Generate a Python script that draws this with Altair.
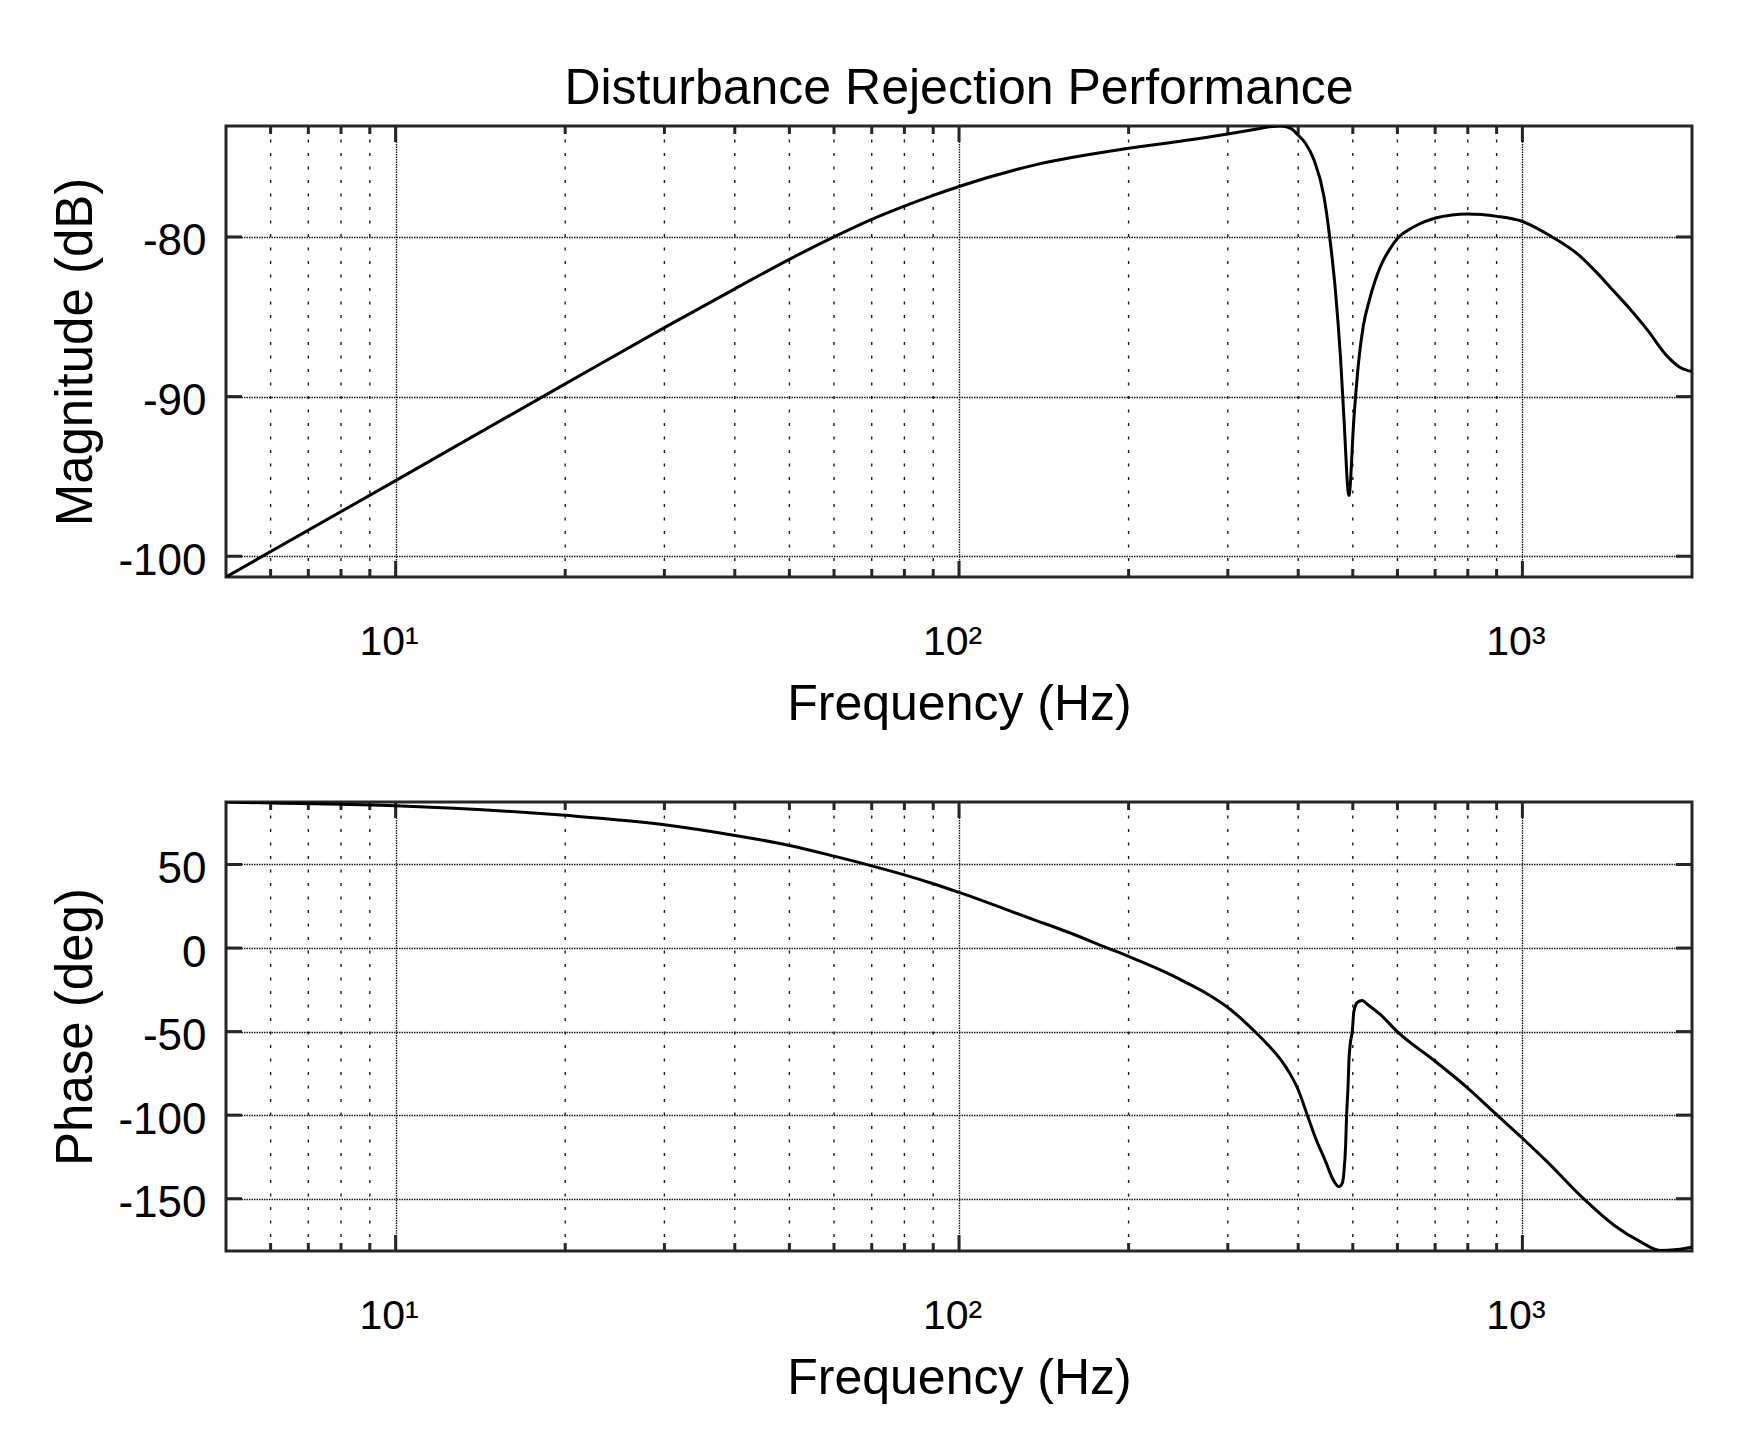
import altair as alt
import pandas as pd

# ---- data ----
mag_freq = [5, 10, 20, 30, 40, 50, 60, 70, 80, 90, 100, 136, 200, 250, 300, 340, 355,
            372, 388, 399.6, 412, 426.6, 444.4, 454.9, 466.1, 475.7, 482.3, 492.1,
            502.2, 512.6, 521.9, 535.5, 560.1, 583.4, 603.6, 624.5, 650.7, 701, 750,
            798, 901.6, 1000, 1129, 1267, 1357, 1452, 1555, 1664, 1805, 1906, 2000]
mag_db = [-101.3, -95.26, -89.2, -85.68, -83.25, -81.4, -80.0, -78.9, -78.07, -77.4,
          -76.84, -75.5, -74.45, -73.98, -73.55, -73.22, -73.1, -73.05, -73.2, -73.61,
          -74.13, -75.17, -77.47, -80.0, -83.5, -87.66, -91.4, -96.19, -91.4, -87.66,
          -85.58, -83.91, -81.83, -80.69, -80.0, -79.61, -79.25, -78.81, -78.62,
          -78.56, -78.71, -79.03, -80.0, -81.21, -82.25, -83.39, -84.54, -85.79, -87.45,
          -88.18, -88.43]

ph_freq = [5, 6.03, 10, 20, 30, 40, 50, 60, 70, 80, 90, 100, 136, 155.9, 183.5, 200,
           234.4, 247.5, 274.2, 303.6, 334.8, 353.6, 372.4, 387.9, 400, 415.2, 429.5,
           447.5, 459.9, 472.4, 479, 482.3, 485.6, 487.5, 490.5, 492.1, 495.5, 498.9,
           502.2, 509.2, 519.7, 530.4, 560.1, 599.6, 701, 798, 901.6, 1000, 1106, 1284,
           1452, 1619, 1756, 1881, 2000]
ph_deg = [87.4, 86.8, 85.2, 79.4, 73.8, 67.4, 61.4, 55.0, 49.2, 43.8, 38.5, 33.3, 16.9,
          9.6, 0.0, -5.0, -15.0, -19.0, -26.9, -36.9, -49.9, -58.0, -66.8, -75.9, -84.8,
          -100.0, -113.8, -127.8, -137.7, -142.8, -140.7, -133.8, -117.8, -100.0, -81.9,
          -67.9, -55.9, -50.0, -38.0, -32.6, -31.4, -33.6, -39.9, -50.0, -67.9, -83.5,
          -100.0, -113.8, -127.8, -150.0, -165.7, -175.7, -181.0, -180.4, -179.0]

major_freq = [10, 100, 1000]
minor_freq = [6, 7, 8, 9, 20, 30, 40, 50, 60, 70, 80, 90,
              200, 300, 400, 500, 600, 700, 800, 900]
mag_ticks = [-100, -90, -80]
ph_ticks = [-150, -100, -50, 0, 50]

x_domain = [5, 2000]
mag_domain = [-101.3, -73.05]
ph_domain = [-181.3, 87.4]

title_text = "Disturbance Rejection Performance"
x_title = "Frequency (Hz)"
mag_title = "Magnitude (dB)"
ph_title = "Phase (deg)"

# ---- styling ----
W = 1466
FONT = "Liberation Sans"
INK = "#262626"
GRID = "#1a1a1a"

xscale = alt.Scale(type="log", domain=x_domain, nice=False)

label_expr = ("datum.value == 10 ? '10\u00b9' : datum.value == 100 ? '10\u00b2' : "
              "datum.value == 1000 ? '10\u00b3' : ''")


def panel(freq, vals, ydomain, yticks, ytitle, height):
    df = pd.DataFrame({"f": freq, "v": vals})
    yscale = alt.Scale(domain=ydomain, nice=False, zero=False)

    xaxis = alt.Axis(values=major_freq, labelExpr=label_expr, title=x_title,
                     grid=True, gridDash=[1.5, 1], gridColor=GRID, gridWidth=1.4,
                     gridOpacity=1, domain=False, ticks=False,
                     labelPadding=45, labelFontSize=41, labelFont=FONT,
                     labelColor="black", labelFlush=False, labelOverlap=False,
                     labelOffset=-7,
                     titleFont=FONT, titleFontSize=50, titleFontWeight="normal",
                     titleColor="black", titlePadding=17)
    yaxis = alt.Axis(values=yticks, title=ytitle, labelExpr="datum.value + ''",
                     grid=True, gridDash=[1.5, 1],
                     gridColor=GRID, gridWidth=1.4, gridOpacity=1, domain=False,
                     ticks=False, labelPadding=20, labelFontSize=44, labelFont=FONT,
                     labelColor="black", labelFlush=False, labelOverlap=False,
                     labelOffset=5,
                     titleFont=FONT, titleFontSize=51, titleFontWeight="normal",
                     titleColor="black", titlePadding=15)

    X = alt.X("f:Q", scale=xscale, axis=xaxis)
    Y = alt.Y("v:Q", scale=yscale, axis=yaxis)

    minor_df = pd.DataFrame({"f": minor_freq})
    major_df = pd.DataFrame({"f": major_freq})
    ytick_df = pd.DataFrame({"v": yticks})

    minor_grid = alt.Chart(minor_df).mark_rule(
        color=GRID, strokeWidth=1.4, strokeDash=[3, 10.5]
    ).encode(x=X)

    def xticks(data, length):
        bot = alt.Chart(data).mark_rule(color=INK, strokeWidth=3).encode(
            x=X, y=alt.value(height), y2=alt.value(height - length))
        top = alt.Chart(data).mark_rule(color=INK, strokeWidth=3).encode(
            x=X, y=alt.value(0), y2=alt.value(length))
        return [bot, top]

    yl = alt.Chart(ytick_df).mark_rule(color=INK, strokeWidth=3).encode(
        y=Y, x=alt.value(0), x2=alt.value(16))
    yr = alt.Chart(ytick_df).mark_rule(color=INK, strokeWidth=3).encode(
        y=Y, x=alt.value(W - 16), x2=alt.value(W))

    line = alt.Chart(df).mark_line(
        color="black", strokeWidth=3, interpolate="monotone", clip=True
    ).encode(x=X, y=Y)

    layers = [minor_grid] + xticks(minor_df, 8) + xticks(major_df, 16) + [yl, yr, line]
    return alt.layer(*layers).properties(width=W, height=height)


top = panel(mag_freq, mag_db, mag_domain, mag_ticks, mag_title, 451).properties(
    title=alt.Title(title_text, fontSize=50, font=FONT, fontWeight="normal",
                    color="black", anchor="middle", frame="group", offset=11)
)
bottom = panel(ph_freq, ph_deg, ph_domain, ph_ticks, ph_title, 449)

chart = alt.vconcat(top, bottom, spacing=68).properties(
    padding={"left": 41, "top": 54, "right": 30, "bottom": 20},
    background="white",
).configure_view(stroke=INK, strokeWidth=3)

chart.save("out.html", embed_options={"renderer": "svg", "actions": False})
